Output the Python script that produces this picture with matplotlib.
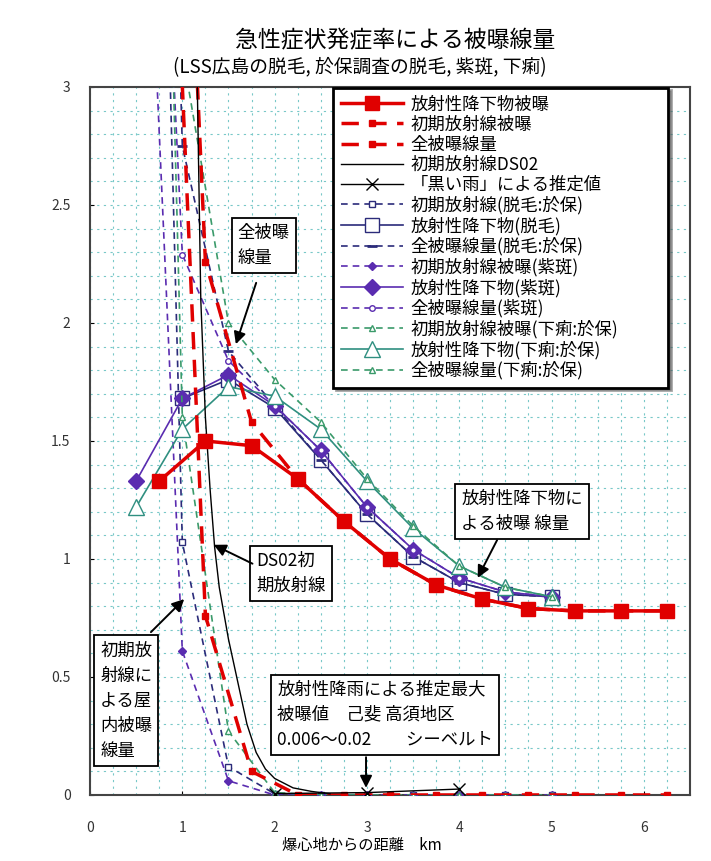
import matplotlib
matplotlib.use('Agg')
from matplotlib import pyplot as plt
from matplotlib.ticker import MultipleLocator

plt.rcParams['font.family'] = ['Noto Sans CJK JP', 'DejaVu Sans']

# LSS 広島 (red)
dist_lss = [0.75, 1.25, 1.75, 2.25, 2.75, 3.25, 3.75, 4.25, 4.75, 5.25, 5.75, 6.25]
fallout_lss = [1.33, 1.50, 1.48, 1.34, 1.16, 1.00, 0.89, 0.83, 0.79, 0.78, 0.78, 0.78]
initial_lss = [5.25, 0.76, 0.10, 0, 0, 0, 0, 0, 0, 0, 0, 0]
total_lss = [6.58, 2.26, 1.58, 1.34, 1.16, 1.00, 0.89, 0.83, 0.79, 0.78, 0.78, 0.78]

# DS02 初期放射線
dist_ds02 = [1.15, 1.2, 1.25, 1.3, 1.35, 1.4, 1.5, 1.6, 1.7, 1.8, 1.9, 2.0, 2.2, 2.4, 2.6]
dose_ds02 = [3.3, 2.1, 1.6, 1.3, 1.05, 0.88, 0.66, 0.48, 0.30, 0.18, 0.11, 0.07, 0.03, 0.015, 0.005]

# 黒い雨
dist_rain = [2.0, 3.0, 4.0]
dose_rain = [0.006, 0.01, 0.025]

# 於保調査
dist_oho = [0.5, 1.0, 1.5, 2.0, 2.5, 3.0, 3.5, 4.0, 4.5, 5.0]
initial_hair = [8.5, 1.07, 0.12, 0.005, 0, 0, 0, 0, 0, 0]
dist_hair_fo = [1.0, 1.5, 2.0, 2.5, 3.0, 3.5, 4.0, 4.5, 5.0]
fallout_hair = [1.68, 1.76, 1.64, 1.42, 1.19, 1.01, 0.90, 0.85, 0.84]
total_hair = [9.8, 2.75, 1.88, 1.65, 1.42, 1.19, 1.01, 0.90, 0.85, 0.84]

initial_spot = [5.0, 0.61, 0.06, 0, 0, 0, 0, 0, 0, 0]
fallout_spot = [1.33, 1.68, 1.78, 1.65, 1.46, 1.22, 1.04, 0.92, 0.86, 0.84]
total_spot = [6.33, 2.29, 1.84, 1.65, 1.46, 1.22, 1.04, 0.92, 0.86, 0.84]

initial_diarr = [9.0, 1.6, 0.27, 0.01, 0, 0, 0, 0, 0, 0]
fallout_diarr = [1.22, 1.55, 1.73, 1.69, 1.55, 1.33, 1.13, 0.97, 0.88, 0.84]
total_diarr = [10.2, 3.15, 2.0, 1.76, 1.58, 1.34, 1.14, 0.97, 0.88, 0.84]

red = '#e00000'
navy = '#2b2b7a'
purple = '#5a2cb0'
teal = '#2f8f80'
green = '#3a9a6a'

fig = plt.figure(figsize=(7.11, 8.61), dpi=100)
ax = fig.add_axes([0.1266, 0.0767, 0.8439, 0.8223])

ax.plot(dist_lss, fallout_lss, '-', color=red, lw=2.5, marker='s', ms=10, label='放射性降下物被曝', zorder=5)
ax.plot(dist_lss, initial_lss, '--', color=red, lw=2.5, dashes=(5, 3), marker='s', ms=4, label='初期放射線被曝', zorder=4)
ax.plot(dist_lss, total_lss, '--', color=red, lw=2.5, dashes=(5, 3), marker='s', ms=4, label='全被曝線量', zorder=4)
ax.plot(dist_ds02, dose_ds02, '-', color='black', lw=1.0, label='初期放射線DS02', zorder=4)
ax.plot(dist_rain, dose_rain, '-', color='black', lw=1.0, marker='x', ms=9, label='「黒い雨」による推定値', zorder=4)
ax.plot(dist_oho, initial_hair, '--', color=navy, lw=1.2, dashes=(4, 3), marker='s', ms=4, mfc='white',
        label='初期放射線(脱毛:於保)', zorder=3)
ax.plot(dist_hair_fo, fallout_hair, '-', color=navy, lw=1.2, marker='s', ms=10, mfc='white',
        label='放射性降下物(脱毛)', zorder=3)
ax.plot(dist_oho, total_hair, '--', color=navy, lw=1.2, dashes=(4, 3), marker='_', ms=7, mew=2,
        label='全被曝線量(脱毛:於保)', zorder=3)
ax.plot(dist_oho, initial_spot, '--', color=purple, lw=1.2, dashes=(4, 3), marker='D', ms=4,
        label='初期放射線被曝(紫斑)', zorder=3)
ax.plot(dist_oho, fallout_spot, '-', color=purple, lw=1.2, marker='D', ms=8,
        label='放射性降下物(紫斑)', zorder=3)
ax.plot(dist_oho, total_spot, '--', color=purple, lw=1.2, dashes=(4, 3), marker='o', ms=4, mfc='white',
        label='全被曝線量(紫斑)', zorder=3)
ax.plot(dist_oho, initial_diarr, '--', color=green, lw=1.2, dashes=(4, 3), marker='^', ms=5, mfc='white',
        label='初期放射線被曝(下痢:於保)', zorder=3)
ax.plot(dist_oho, fallout_diarr, '-', color=teal, lw=1.2, marker='^', ms=12, mfc='white',
        label='放射性降下物(下痢:於保)', zorder=3)
ax.plot(dist_oho, total_diarr, '--', color=green, lw=1.2, dashes=(4, 3), marker='^', ms=5, mfc='white',
        label='全被曝線量(下痢:於保)', zorder=3)

ax.set_xlim(0, 6.5)
ax.set_ylim(0, 3)
ax.set_xticks([0, 1, 2, 3, 4, 5, 6])
ax.set_yticks([0, 0.5, 1, 1.5, 2, 2.5, 3])
ax.set_yticklabels(['0', '0.5', '1', '1.5', '2', '2.5', '3'])
ax.xaxis.set_minor_locator(MultipleLocator(0.25))
ax.yaxis.set_minor_locator(MultipleLocator(0.1))
ax.grid(which='both', color='#78c8c8', linestyle=(0, (2, 4)), linewidth=0.8)
ax.tick_params(which='minor', length=0)
ax.tick_params(which='major', length=3, direction='in', labelsize=10, labelcolor='#333333')
ax.tick_params(axis='x', pad=19)
ax.tick_params(axis='y', pad=14)
for s in ax.spines.values():
    s.set_linewidth(1.5)
    s.set_color('#444444')

ax.set_xlabel('爆心地からの距離　km', fontsize=11, labelpad=1, x=0.453)

fig.text(0.556, 0.953, '急性症状発症率による被曝線量', ha='center', va='center', fontsize=16.5)
fig.text(0.506, 0.921, '(LSS広島の脱毛, 於保調査の脱毛, 紫斑, 下痢)', ha='center', va='center', fontsize=13.5)

leg = ax.legend(loc='upper left', bbox_to_anchor=(0.405, 0.579, 0.558, 0.42), mode='expand',
                borderaxespad=0, fontsize=12.5, handlelength=3.6, labelspacing=0.12, fancybox=False,
                shadow=True, framealpha=1, borderpad=0.45, handletextpad=0.4)
leg.get_frame().set_edgecolor('black')
leg.get_frame().set_linewidth(2)
leg.set_zorder(10)

box = dict(boxstyle='square,pad=0.35', fc='white', ec='black', lw=1.3)
notes = [
    (1.6, 2.33, '全被曝\n線量', (1.8, 2.17), (1.58, 1.91)),
    (1.8, 0.94, 'DS02初\n期放射線', (1.76, 0.98), (1.34, 1.06)),
    (4.02, 1.20, '放射性降下物に\nよる被曝 線量', (4.41, 1.08), (4.2, 0.92)),
    (0.11, 0.40, '初期放\n射線に\nよる屋\n内被曝\n線量', (0.66, 0.69), (1.02, 0.83)),
    (2.03, 0.34, '放射性降雨による推定最大\n被曝値　己斐 高須地区\n0.006～0.02　　シーベルト', (2.99, 0.16), (2.99, 0.03)),
]
for tx, ty, txt, tail, head in notes:
    ax.text(tx, ty, txt, ha='left', va='center', fontsize=12.5, linespacing=1.5, bbox=box, zorder=8)
    ax.annotate('', xy=head, xytext=tail,
                arrowprops=dict(arrowstyle='-|>', color='black', lw=1.4, mutation_scale=18,
                                shrinkA=0, shrinkB=0), zorder=8)

fig.savefig('out.png', dpi=100)
